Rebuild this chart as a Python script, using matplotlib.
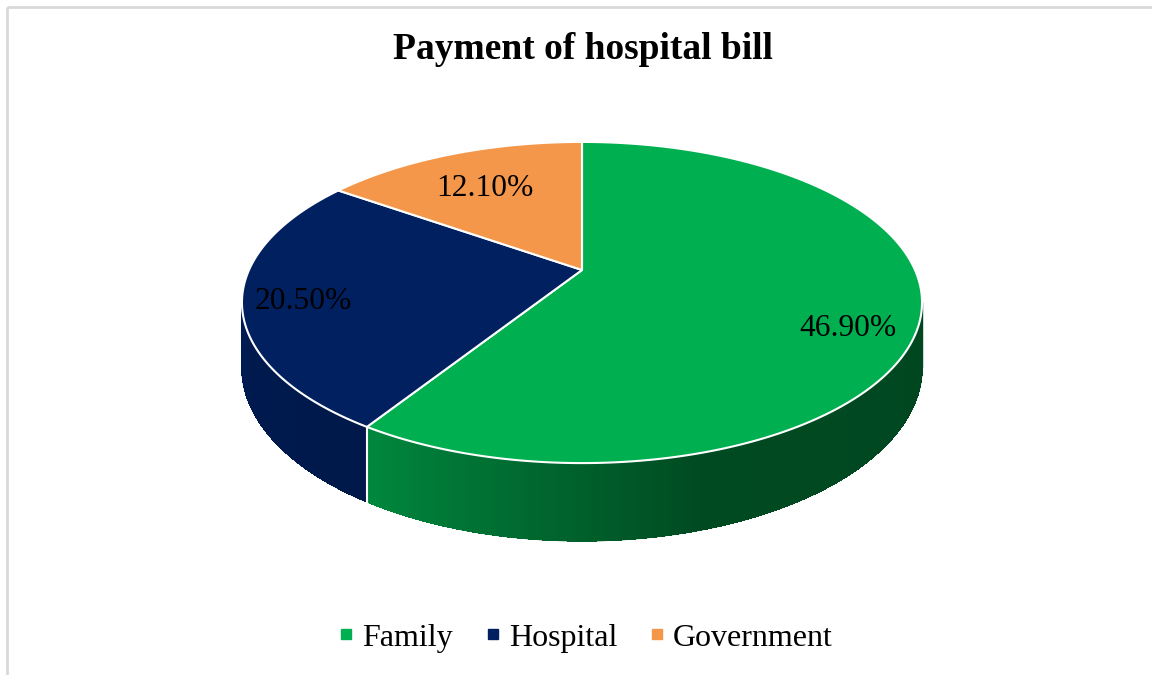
import numpy as np
import matplotlib
matplotlib.use('Agg')
import matplotlib.pyplot as plt
from matplotlib.collections import PolyCollection, LineCollection
from matplotlib.patches import Polygon, Rectangle
from matplotlib.lines import Line2D

categories = ['Family', 'Hospital', 'Government']
shares = [46.90, 20.50, 12.10]
colors = ['#00B050', '#002060', '#F4974A']

plt.rcParams['font.family'] = ['Liberation Serif', 'DejaVu Serif']

# projected disc: centre, radii, camera distance, thickness (pixels)
CX, CY = 582, 270
A, B = 333, 154
D = 4.94
H = 62


def proj(t_deg, r=1.0, z=0.0):
    # t measured clockwise from 12 o'clock, v > 0 is towards the viewer
    t = np.radians(t_deg)
    u = r * np.sin(t)
    v = -r * np.cos(t)
    s = D / (D - v)
    return CX + A * u * s, CY + (B * v + H * z) * s


def wall_shade(t_deg):
    # side walls are lit from the front-left
    return np.interp(t_deg, [100, 163, 212, 260], [0.40, 0.42, 0.77, 0.85])


vals = np.array(shares)
edges = np.concatenate([[0], np.cumsum(vals) / vals.sum() * 360])

fig = plt.figure(figsize=(11.52, 6.75), dpi=100)
ax = fig.add_axes([0, 0, 1, 1])
ax.set_xlim(0, 1152)
ax.set_ylim(675, 0)
ax.axis('off')

ax.add_patch(Rectangle((7, 7), 1300, 800, fill=False, edgecolor='#d9d9d9', lw=2))

# side walls (only the front half is visible)
t_sil = np.degrees(np.arccos(-1 / D))
for i in range(len(vals)):
    lo = max(edges[i], t_sil)
    hi = min(edges[i + 1], 360 - t_sil)
    if lo >= hi:
        continue
    ts = np.linspace(lo, hi, int((hi - lo) * 4) + 2)
    quads, fcs, rim = [], [], []
    base = np.array(matplotlib.colors.to_rgb(colors[i]))
    for t0, t1 in zip(ts[:-1], ts[1:]):
        quads.append([proj(t0), proj(t1), proj(t1, z=1), proj(t0, z=1)])
        rim.append([proj(t0, z=1), proj(t1, z=1)])
        fcs.append(base * wall_shade((t0 + t1) / 2))
    ax.add_collection(PolyCollection(quads, facecolors=fcs, edgecolors=fcs, lw=0.5,
                                     antialiased=False, zorder=1))
    # smooth the lower rim and the outer silhouettes
    ax.add_collection(LineCollection(rim, colors=fcs, lw=1.0, zorder=1))
    for t_end, c in ((t_sil, fcs[0]), (360 - t_sil, fcs[-1])):
        if lo <= t_end <= hi:
            (x0, y0), (x1, y1) = proj(t_end), proj(t_end, z=1)
            ax.plot([x0, x1], [y0, y1], color=c, lw=1.0, zorder=1)

# white seams between walls
for a in edges[1:-1]:
    if t_sil < a < 360 - t_sil:
        x0, y0 = proj(a)
        x1, y1 = proj(a, z=1)
        ax.plot([x0, x1], [y0, y1], color='white', lw=1.5, zorder=2)

# top face
for i in range(len(vals)):
    ts = np.linspace(edges[i], edges[i + 1], int(edges[i + 1] - edges[i]) * 2 + 2)
    pts = [proj(0, r=0)] + [proj(t) for t in ts]
    ax.add_patch(Polygon(pts, closed=True, facecolor=colors[i], edgecolor='white',
                         lw=1.5, joinstyle='round', zorder=3))

# value labels
label_r = [0.80, 0.82, 0.70]
label_dy = [23, 6, 4]
for i, v in enumerate(shares):
    mid = (edges[i] + edges[i + 1]) / 2
    x, y = proj(mid, r=label_r[i])
    ax.text(x - 1.5, y + label_dy[i], f'{v:.2f}%', ha='center', va='center', fontsize=22.7,
            color='black', zorder=4)

fig.text(0.5056, 0.926, 'Payment of hospital bill', ha='center', va='center',
         fontsize=27, fontweight='bold')

handles = [Line2D([], [], marker='s', ls='none', markersize=7.5, color=c) for c in colors]
fig.legend(handles, categories, loc='center', bbox_to_anchor=(0.5085, 0.055), ncol=3,
           frameon=False, fontsize=23, handlelength=0.5, handletextpad=0.25,
           columnspacing=1.0)

fig.savefig('out.png', dpi=100)
